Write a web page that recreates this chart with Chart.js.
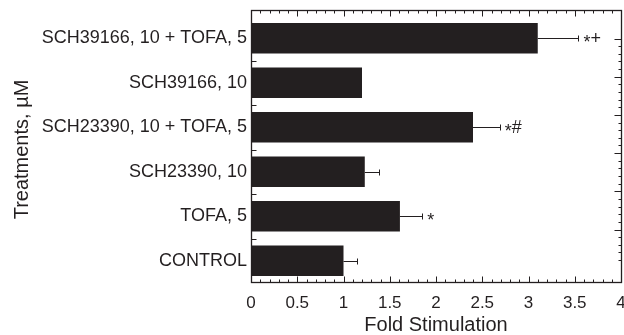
<!DOCTYPE html>
<html>
<head>
<meta charset="utf-8">
<script src="https://cdn.jsdelivr.net/npm/chart.js@4"></script>
<style>
  html, body { margin: 0; padding: 0; background: #fff; }
  canvas { display: block; }
</style>
</head>
<body>
<canvas id="chart" width="624" height="335"></canvas>
<script>
// values (top bar first)
const treatments = ['SCH39166, 10 + TOFA, 5', 'SCH39166, 10', 'SCH23390, 10 + TOFA, 5', 'SCH23390, 10', 'TOFA, 5', 'CONTROL'];
const foldStimulation = [3.10, 1.20, 2.40, 1.23, 1.61, 1.00];
const errorUpper = [0.44, 0, 0.29, 0.15, 0.24, 0.15];
const significance = ['*+', '', '*#', '', '*', ''];
const xTicks = [0, 0.5, 1, 1.5, 2, 2.5, 3, 3.5, 4];

const INK = '#231f20';
const FONT = 'Liberation Sans, Arial, Helvetica, sans-serif';

const line = (ctx, x0, y0, x1, y1) => {
  ctx.beginPath();
  ctx.moveTo(x0, y0);
  ctx.lineTo(x1, y1);
  ctx.stroke();
};

// frame, inward ticks, error bars and significance marks
const overlay = {
  id: 'overlay',
  afterDatasetsDraw(chart) {
    const { ctx, chartArea: a, scales: { x, y, y2 } } = chart;
    const left = Math.round(a.left) + 0.5;
    const right = Math.round(a.right) + 0.5;
    const top = Math.round(a.top) - 6 + 0.5;
    const bottom = Math.round(a.bottom) - 1 + 0.5;

    ctx.save();
    ctx.strokeStyle = INK;
    ctx.lineWidth = 1;

    // error bars
    foldStimulation.forEach((v, i) => {
      if (!errorUpper[i]) return;
      const yc = Math.round(y.getPixelForValue(i)) + 0.5;
      const x0 = x.getPixelForValue(v);
      const x1 = Math.round(x.getPixelForValue(v + errorUpper[i])) + 0.5;
      line(ctx, x0, yc, x1, yc);
      line(ctx, x1, yc - 3, x1, yc + 3);
    });

    // x ticks, bottom and top
    for (let k = 0; k <= 40; k++) {
      const px = Math.round(x.getPixelForValue(k / 10)) + 0.5;
      const len = k % 5 === 0 ? 6 : 3;
      line(ctx, px, bottom, px, bottom - len);
      line(ctx, px, top, px, top + len);
    }

    // left ticks at category boundaries
    for (let i = 0; i < treatments.length - 1; i++) {
      const py = Math.round((y.getPixelForValue(i) + y.getPixelForValue(i + 1)) / 2) + 0.5;
      line(ctx, left, py, left + 5, py);
    }

    // right ticks
    for (let k = Math.ceil(y2.min * 5); k <= Math.floor(y2.max * 5); k++) {
      const py = Math.round(y2.getPixelForValue(k / 5)) + 0.5;
      const len = k % 5 === 0 ? 7 : 3;
      line(ctx, right, py, right - len, py);
    }

    ctx.lineWidth = 1.3;
    ctx.strokeRect(left, top, right - left, bottom - top);

    // significance marks (asterisk lowered to sit level with the other sign)
    ctx.fillStyle = INK;
    ctx.font = '18px ' + FONT;
    ctx.textBaseline = 'middle';
    ctx.textAlign = 'left';
    significance.forEach((s, i) => {
      if (!s) return;
      let px = x.getPixelForValue(foldStimulation[i] + errorUpper[i]) + 5;
      const py = y.getPixelForValue(i) + 1;
      for (const ch of s) {
        ctx.fillText(ch, px, ch === '*' ? py + 4 : py);
        px += ctx.measureText(ch).width;
      }
    });
    ctx.restore();
  }
};

new Chart(document.getElementById('chart'), {
  type: 'bar',
  data: {
    labels: treatments,
    datasets: [
      {
        data: foldStimulation,
        backgroundColor: INK,
        borderWidth: 0,
        barPercentage: 0.68,
        categoryPercentage: 1,
      },
    ],
  },
  options: {
    indexAxis: 'y',
    responsive: false,
    animation: false,
    devicePixelRatio: 1,
    layout: { padding: { top: 16, right: 3, left: 0, bottom: 0 } },
    scales: {
      x: {
        type: 'linear',
        min: 0,
        max: 4,
        afterBuildTicks: (scale) => {
          scale.ticks = xTicks.map((v) => ({ value: v }));
        },
        afterFit: (scale) => {
          scale.height = 52;
          scale.paddingLeft = 0;
          scale.paddingRight = 0;
        },
        grid: { display: false, drawTicks: false },
        border: { display: false },
        ticks: {
          color: INK,
          padding: 10,
          maxRotation: 0,
          autoSkip: false,
          font: { family: FONT, size: 17 },
          callback: (v) => String(v),
        },
        title: {
          display: true,
          text: 'Fold Stimulation',
          color: INK,
          font: { family: FONT, size: 20, lineHeight: 1 },
          padding: { top: 0, bottom: 0 },
        },
      },
      y: {
        afterFit: (scale) => {
          scale.width = 251;
          scale.paddingTop = 0;
          scale.paddingBottom = 0;
        },
        grid: { display: false, drawTicks: false },
        border: { display: false },
        ticks: {
          color: INK,
          padding: 4,
          autoSkip: false,
          font: { family: FONT, size: 18 },
        },
        title: {
          display: true,
          text: 'Treatments, µM',
          color: INK,
          font: { family: FONT, size: 20 },
          padding: { top: 10, bottom: 0 },
        },
      },
      y2: {
        type: 'linear',
        position: 'right',
        display: false,
        min: 0.1,
        max: 6.09,
      },
    },
    plugins: {
      legend: { display: false },
      tooltip: { enabled: false },
    },
  },
  plugins: [overlay],
});
</script>
</body>
</html>
